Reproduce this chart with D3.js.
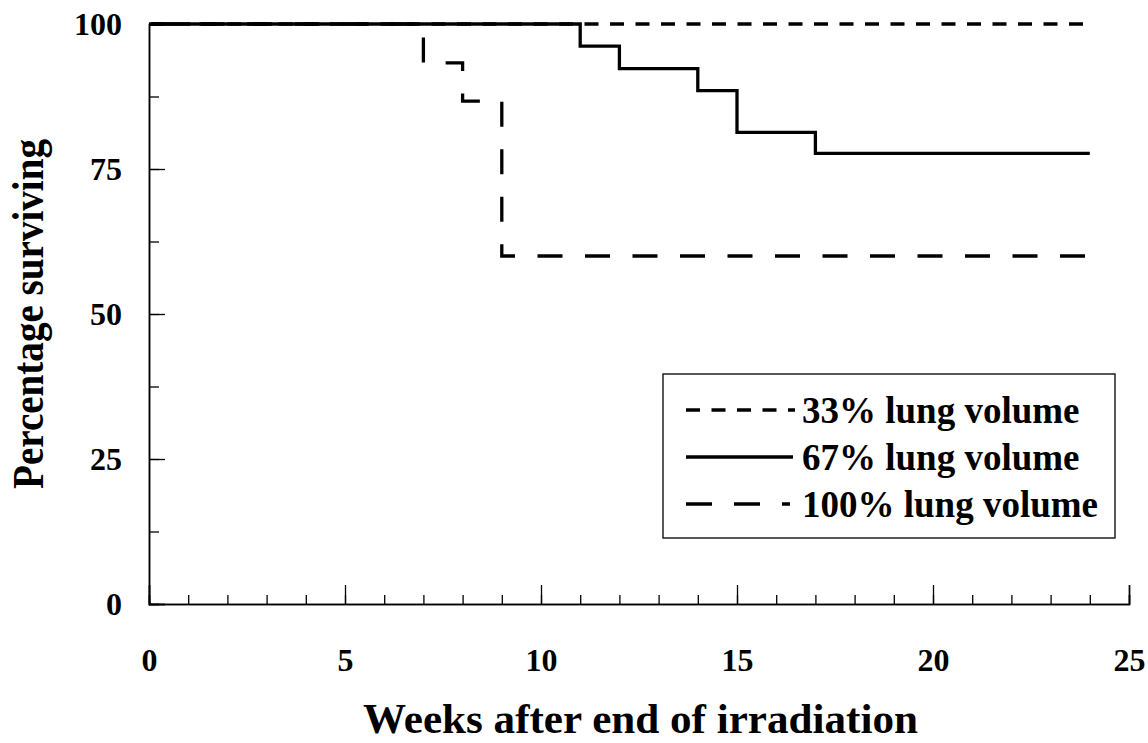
<!DOCTYPE html>
<meta charset="utf-8">
<script src="https://cdn.jsdelivr.net/npm/d3@7"></script>
<style>
  body { margin: 0; background: #fff; }
  svg text { font-family: "Liberation Serif", "Times New Roman", serif; font-weight: bold; fill: #000; }
</style>
<div id="vis"></div>
<script>
// survival data (Kaplan-Meier steps)
const groups = ["33% lung volume", "67% lung volume", "100% lung volume"]
const weeks33 = [0, 24]
const surv33 = [100, 100]
const weeks67 = [0, 11, 12, 14, 15, 17, 24]
const surv67 = [100, 96.2, 92.3, 88.5, 81.3, 77.7, 77.7]
const weeks100 = [0, 7, 8, 9, 24]
const surv100 = [100, 93.3, 86.7, 60, 60]
const xTicks = [0, 5, 10, 15, 20, 25]
const yTicks = [0, 25, 50, 75, 100]

const width = 1148, height = 743
const margin = {top: 24, right: 19, bottom: 139, left: 149}

const x = d3.scaleLinear().domain([0, 25]).range([margin.left, width - margin.right])
const y = d3.scaleLinear().domain([0, 100]).range([height - margin.bottom, margin.top])

const svg = d3.select("#vis").append("svg")
  .attr("width", width)
  .attr("height", height)

// minor ticks first
svg.append("g")
  .attr("transform", `translate(0,${y(0)})`)
  .call(d3.axisBottom(x).tickValues(d3.range(0, 26, 1)).tickSize(-9).tickFormat(""))
svg.append("g")
  .attr("transform", `translate(${x(0)},0)`)
  .call(d3.axisLeft(y).tickValues(d3.range(0, 101, 12.5)).tickSize(-10).tickFormat(""))

svg.append("g")
  .attr("transform", `translate(0,${y(0)})`)
  .call(d3.axisBottom(x).tickValues(xTicks).tickSize(-19).tickPadding(44))
svg.append("g")
  .attr("transform", `translate(${x(0)},0)`)
  .call(d3.axisLeft(y).tickValues(yTicks).tickSize(-16).tickPadding(27))

svg.selectAll(".domain").attr("stroke", "#000").attr("stroke-width", 1.5)
svg.selectAll(".tick line").attr("stroke", "#000").attr("stroke-width", 1.3)
svg.selectAll(".tick text").style("font-size", "32px")

const line = d3.line()
  .x(d => x(d[0]))
  .y(d => y(d[1]))
  .curve(d3.curveStepAfter)

const series = [
  {name: groups[0], pts: d3.zip(weeks33, surv33), dash: "14,11.5", off: 23.5},
  {name: groups[2], pts: d3.zip(weeks100, surv100), dash: "25,22.5", off: 44.5},
  {name: groups[1], pts: d3.zip(weeks67, surv67), dash: null, off: 0}
]

svg.selectAll("path.curve")
  .data(series)
  .enter()
  .append("path")
  .attr("class", "curve")
  .attr("d", d => line(d.pts))
  .attr("fill", "none")
  .attr("stroke", "#000")
  .attr("stroke-width", 3.3)
  .attr("stroke-dasharray", d => d.dash)
  .attr("stroke-dashoffset", d => d.off)

// legend
const lg = svg.append("g")
lg.append("rect")
  .attr("x", 663).attr("y", 374)
  .attr("width", 452).attr("height", 164)
  .attr("fill", "#fff")
  .attr("stroke", "#000")
  .attr("stroke-width", 1.3)
const legendRows = [
  {name: groups[0], dash: "14,11.5", end: 795},
  {name: groups[1], dash: null, end: 793},
  {name: groups[2], dash: "26,22", end: 790}
]
const rows = lg.selectAll("g.row")
  .data(legendRows)
  .enter()
  .append("g")
  .attr("class", "row")
  .attr("transform", (d, i) => `translate(0,${410 + i * 47})`)
rows.append("line")
  .attr("x1", 686).attr("x2", d => d.end)
  .attr("stroke", "#000")
  .attr("stroke-width", 3.3)
  .attr("stroke-dasharray", d => d.dash)
rows.append("text")
  .attr("x", 802)
  .attr("dy", "0.34em")
  .style("font-size", "37px")
  .text(d => d.name)

// axis titles
svg.append("text")
  .attr("x", 363)
  .attr("y", 733)
  .attr("textLength", 555)
  .attr("lengthAdjust", "spacingAndGlyphs")
  .style("font-size", "43px")
  .text("Weeks after end of irradiation")

svg.append("text")
  .attr("transform", `translate(43,${y(50)}) rotate(-90)`)
  .attr("x", -175)
  .attr("textLength", 350)
  .attr("lengthAdjust", "spacingAndGlyphs")
  .style("font-size", "44px")
  .text("Percentage surviving")
</script>
